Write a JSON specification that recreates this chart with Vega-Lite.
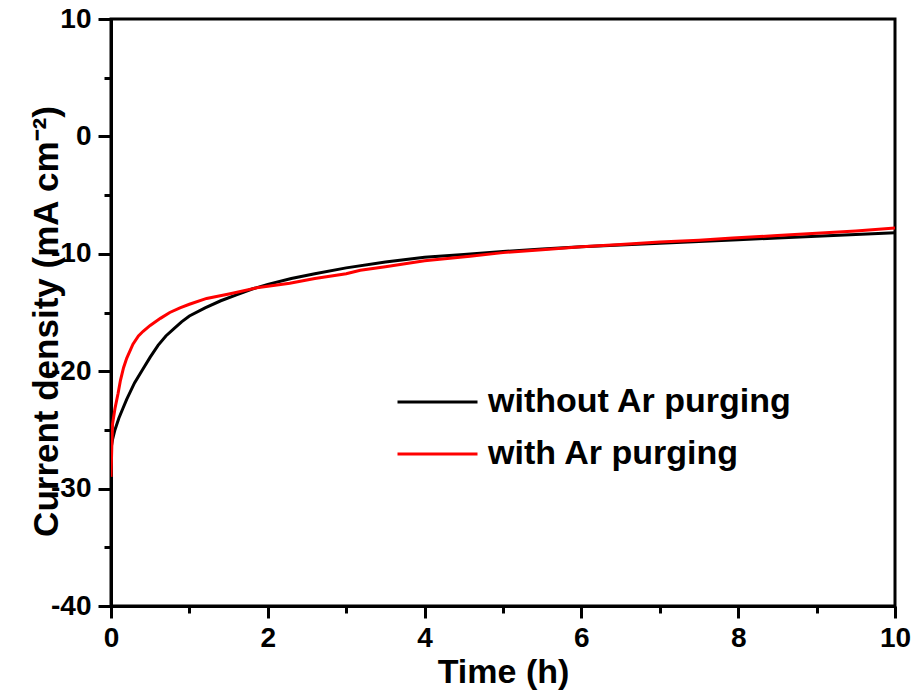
{
  "$schema": "https://vega.github.io/schema/vega-lite/v6.json",
  "width": 784,
  "height": 587,
  "autosize": {"type": "none"},
  "padding": {"left": 111, "top": 19, "right": 22, "bottom": 91},
  "background": "white",
  "config": {
    "view": {"stroke": "black", "strokeWidth": 3},
    "font": "Liberation Sans"
  },
  "data": {
    "values": [
      {"series": "without Ar purging", "t": 0, "j": -26.6},
      {"series": "without Ar purging", "t": 0.02, "j": -25.8},
      {"series": "without Ar purging", "t": 0.05, "j": -25.0},
      {"series": "without Ar purging", "t": 0.1, "j": -24.0},
      {"series": "without Ar purging", "t": 0.15, "j": -23.2},
      {"series": "without Ar purging", "t": 0.2, "j": -22.4},
      {"series": "without Ar purging", "t": 0.3, "j": -21.0},
      {"series": "without Ar purging", "t": 0.4, "j": -19.9},
      {"series": "without Ar purging", "t": 0.5, "j": -18.8},
      {"series": "without Ar purging", "t": 0.6, "j": -17.8},
      {"series": "without Ar purging", "t": 0.7, "j": -17.0},
      {"series": "without Ar purging", "t": 0.8, "j": -16.4},
      {"series": "without Ar purging", "t": 0.9, "j": -15.8},
      {"series": "without Ar purging", "t": 1.0, "j": -15.3},
      {"series": "without Ar purging", "t": 1.2, "j": -14.6},
      {"series": "without Ar purging", "t": 1.4, "j": -14.0},
      {"series": "without Ar purging", "t": 1.6, "j": -13.5},
      {"series": "without Ar purging", "t": 1.8, "j": -13.0},
      {"series": "without Ar purging", "t": 2.0, "j": -12.6},
      {"series": "without Ar purging", "t": 2.3, "j": -12.1},
      {"series": "without Ar purging", "t": 2.6, "j": -11.7},
      {"series": "without Ar purging", "t": 3.0, "j": -11.2},
      {"series": "without Ar purging", "t": 3.5, "j": -10.7},
      {"series": "without Ar purging", "t": 4.0, "j": -10.3},
      {"series": "without Ar purging", "t": 4.5, "j": -10.05},
      {"series": "without Ar purging", "t": 5.0, "j": -9.8},
      {"series": "without Ar purging", "t": 5.5, "j": -9.6},
      {"series": "without Ar purging", "t": 6.0, "j": -9.4},
      {"series": "without Ar purging", "t": 6.5, "j": -9.25},
      {"series": "without Ar purging", "t": 7.0, "j": -9.1},
      {"series": "without Ar purging", "t": 7.5, "j": -8.95},
      {"series": "without Ar purging", "t": 8.0, "j": -8.8},
      {"series": "without Ar purging", "t": 8.5, "j": -8.65},
      {"series": "without Ar purging", "t": 9.0, "j": -8.5},
      {"series": "without Ar purging", "t": 9.5, "j": -8.35},
      {"series": "without Ar purging", "t": 10.0, "j": -8.2},
      {"series": "with Ar purging", "t": 0, "j": -29.0},
      {"series": "with Ar purging", "t": 0.01, "j": -26.5},
      {"series": "with Ar purging", "t": 0.02, "j": -24.5},
      {"series": "with Ar purging", "t": 0.05, "j": -23.2},
      {"series": "with Ar purging", "t": 0.09, "j": -21.9},
      {"series": "with Ar purging", "t": 0.12, "j": -20.8},
      {"series": "with Ar purging", "t": 0.16, "j": -19.7},
      {"series": "with Ar purging", "t": 0.2, "j": -18.9},
      {"series": "with Ar purging", "t": 0.28, "j": -17.7},
      {"series": "with Ar purging", "t": 0.35, "j": -17.0},
      {"series": "with Ar purging", "t": 0.41, "j": -16.6},
      {"series": "with Ar purging", "t": 0.5, "j": -16.1},
      {"series": "with Ar purging", "t": 0.63, "j": -15.5},
      {"series": "with Ar purging", "t": 0.75, "j": -15.0},
      {"series": "with Ar purging", "t": 0.88, "j": -14.6},
      {"series": "with Ar purging", "t": 1.0, "j": -14.3},
      {"series": "with Ar purging", "t": 1.22, "j": -13.8},
      {"series": "with Ar purging", "t": 1.52, "j": -13.4},
      {"series": "with Ar purging", "t": 1.86, "j": -12.9},
      {"series": "with Ar purging", "t": 2.28, "j": -12.5},
      {"series": "with Ar purging", "t": 2.6, "j": -12.1},
      {"series": "with Ar purging", "t": 3.0, "j": -11.7},
      {"series": "with Ar purging", "t": 3.18, "j": -11.4},
      {"series": "with Ar purging", "t": 3.5, "j": -11.1},
      {"series": "with Ar purging", "t": 4.0, "j": -10.6},
      {"series": "with Ar purging", "t": 4.58, "j": -10.2},
      {"series": "with Ar purging", "t": 5.0, "j": -9.9},
      {"series": "with Ar purging", "t": 5.5, "j": -9.65},
      {"series": "with Ar purging", "t": 6.0, "j": -9.4},
      {"series": "with Ar purging", "t": 6.5, "j": -9.2},
      {"series": "with Ar purging", "t": 7.0, "j": -9.0},
      {"series": "with Ar purging", "t": 7.5, "j": -8.85},
      {"series": "with Ar purging", "t": 7.93, "j": -8.66},
      {"series": "with Ar purging", "t": 8.5, "j": -8.45},
      {"series": "with Ar purging", "t": 9.0, "j": -8.25},
      {"series": "with Ar purging", "t": 9.5, "j": -8.05},
      {"series": "with Ar purging", "t": 10.0, "j": -7.8}
    ]
  },
  "mark": {"type": "line", "strokeWidth": 3, "clip": true},
  "encoding": {
    "x": {
      "field": "t",
      "type": "quantitative",
      "scale": {"domain": [0, 10], "nice": false, "zero": false},
      "axis": {
        "title": "Time (h)",
        "values": [0, 1, 2, 3, 4, 5, 6, 7, 8, 9, 10],
        "labelExpr": "datum.value % 2 === 0 ? datum.label : ''",
        "grid": false,
        "domainColor": "black",
        "domainWidth": 3,
        "tickColor": "black",
        "tickWidth": 3,
        "tickSize": {"condition": {"test": "datum.value % 2 === 0", "value": 12}, "value": 7},
        "labelFont": "Liberation Sans",
        "labelFontSize": 28,
        "labelFontWeight": "bold",
        "labelColor": "black",
        "labelPadding": 6,
        "labelFlush": false,
        "titleFont": "Liberation Sans",
        "titleFontSize": 34,
        "titleFontWeight": "bold",
        "titleColor": "black",
        "titleBaseline": "alphabetic",
        "titleX": 392,
        "titleY": 76
      }
    },
    "y": {
      "field": "j",
      "type": "quantitative",
      "scale": {"domain": [-40, 10], "nice": false, "zero": false},
      "axis": {
        "title": "Current density (mA cm⁻²)",
        "values": [-40, -35, -30, -25, -20, -15, -10, -5, 0, 5, 10],
        "labelExpr": "datum.value % 10 === 0 ? replace(datum.label, '−', '-') : ''",
        "grid": false,
        "domainColor": "black",
        "domainWidth": 3,
        "tickColor": "black",
        "tickWidth": 3,
        "tickSize": {"condition": {"test": "datum.value % 10 === 0", "value": 13}, "value": 7},
        "labelFont": "Liberation Sans",
        "labelFontSize": 28,
        "labelFontWeight": "bold",
        "labelColor": "black",
        "labelPadding": 7,
        "labelFlush": false,
        "titleFont": "Liberation Sans",
        "titleFontSize": 35,
        "titleFontWeight": "bold",
        "titleColor": "black",
        "titleAngle": -90,
        "titleBaseline": "alphabetic",
        "titleX": -54,
        "titleY": 302
      }
    },
    "color": {
      "field": "series",
      "type": "nominal",
      "sort": ["without Ar purging", "with Ar purging"],
      "scale": {"domain": ["without Ar purging", "with Ar purging"], "range": ["#000000", "#ff0000"]},
      "legend": {
        "title": null,
        "orient": "none",
        "legendX": 285,
        "legendY": 363,
        "symbolType": "stroke",
        "symbolSize": 6400,
        "symbolStrokeWidth": 3,
        "clipHeight": 40,
        "labelFont": "Liberation Sans",
        "labelFontSize": 34,
        "labelFontWeight": "bold",
        "labelColor": "black",
        "labelOffset": 9,
        "labelLimit": 500,
        "rowPadding": 12,
        "padding": 0
      }
    }
  }
}
